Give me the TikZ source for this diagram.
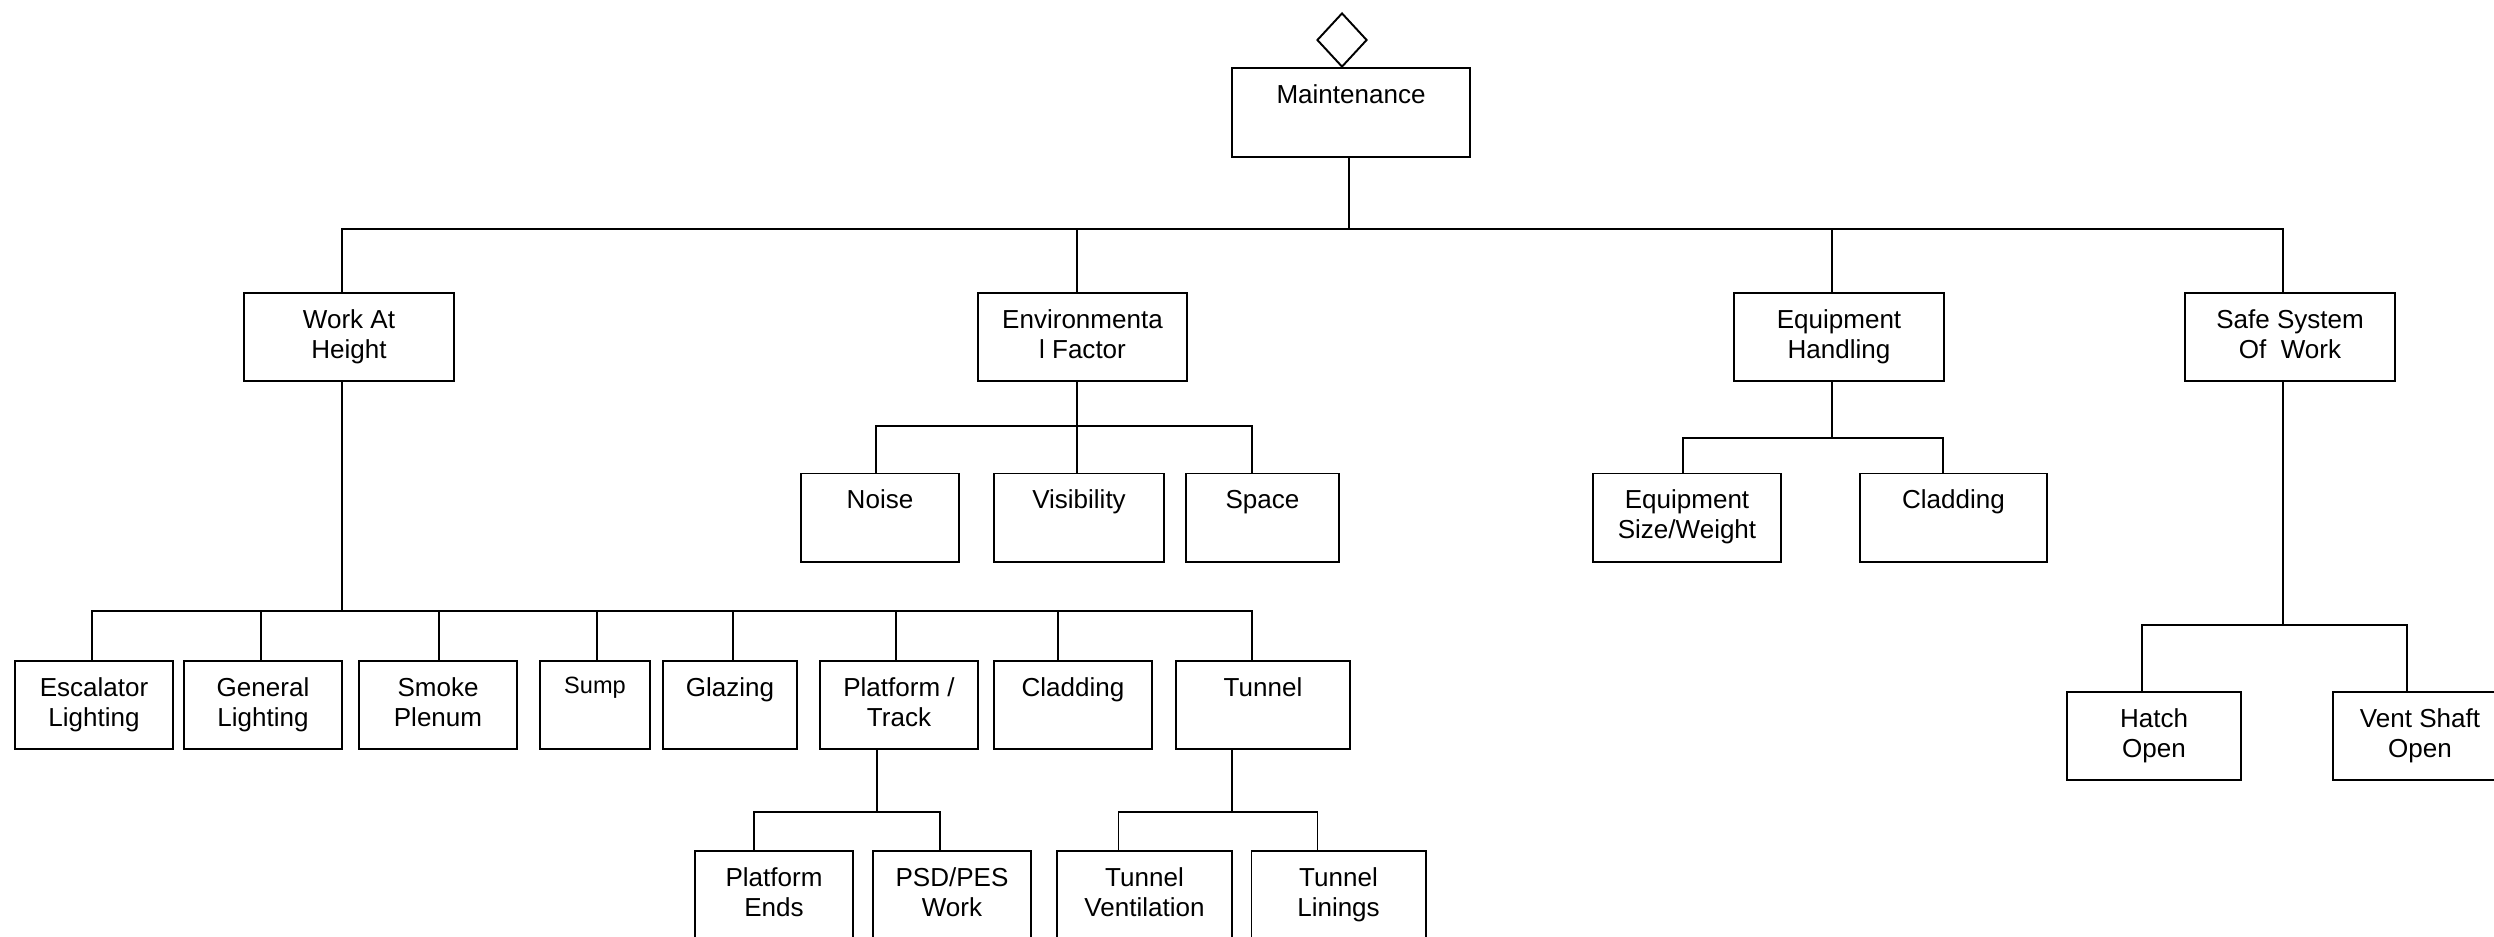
\documentclass[tikz,border=0pt]{standalone}
\usepackage{fontspec}
\setmainfont{Liberation Sans}
\usetikzlibrary{shapes.geometric,calc}

\begin{document}
\begin{tikzpicture}[x=0.01cm, y=-0.01cm, line width=0.55pt,
		box/.style={draw, rectangle, inner sep=0pt, minimum height=0.88cm, label={[lbl]north:#1}},
		lbl/.style={anchor=north, yshift=-0.165cm, align=center, inner sep=0pt, font=\fontsize{7.4}{8.54}\selectfont},
	]
	
	\useasboundingbox (0,0) rectangle (2494,936);
	
	% Draw the root.
	\node[shape=diamond, draw, inner sep=0pt, minimum width=0.5cm, minimum height=0.54cm] (dia) at (1342,40) {};
	\node[box=Maintenance, minimum width=2.38cm, minimum height=0.89cm] (main) at (1351,112.5) {};
	
	% Draw first level.
	\node[box={Work At\\Height}, minimum width=2.1cm] (wah) at (349,337) {};
	\node[box={Environmenta\\l Factor}, minimum width=2.09cm] (env) at (1082.5,337) {};
	\node[box={Equipment\\Handling}, minimum width=2.1cm] (eqh) at (1839,337) {};
	\node[box={Safe System\\Of\ \ Work}, minimum width=2.1cm] (ssw) at (2290,337) {};
	
	% Draw second level.
	\node[box=Noise, minimum width=1.58cm] (noise) at (880,517.5) {};
	\node[box=Visibility, minimum width=1.7cm] (vis) at (1079,517.5) {};
	\node[box=Space, minimum width=1.53cm] (space) at (1262.5,517.5) {};
	\node[box={Equipment\\Size/Weight}, minimum width=1.88cm] (eqsize) at (1687,517.5) {};
	\node[box=Cladding, minimum width=1.87cm] (eqclad) at (1953.5,517.5) {};
	\node[box={Hatch\\Open}, minimum width=1.74cm] (hatch) at (2154,736) {};
	\node[box={Vent Shaft\\Open}, minimum width=1.74cm] (vent) at (2420,736) {};
	
	\node[box={Escalator\\Lighting}, minimum width=1.58cm] (esc) at (94,705) {};
	\node[box={General\\Lighting}, minimum width=1.58cm] (gen) at (263,705) {};
	\node[box={Smoke\\Plenum}, minimum width=1.58cm] (smoke) at (438,705) {};
	\node[box={\fontsize{6.7}{8}\selectfont Sump}, minimum width=1.1cm] (sump) at (595,705) {};
	\node[box=Glazing, minimum width=1.34cm] (glaz) at (730,705) {};
	\node[box={Platform /\\Track}, minimum width=1.58cm] (pt) at (899,705) {};
	\node[box=Cladding, minimum width=1.58cm] (wclad) at (1073,705) {};
	\node[box=Tunnel, minimum width=1.74cm] (tun) at (1263,705) {};
	
	% Draw third level.
	\node[box={Platform\\Ends}, minimum width=1.58cm] (pe) at (774,895) {};
	\node[box={PSD/PES\\Work}, minimum width=1.58cm] (psd) at (952,895) {};
	\node[box={Tunnel\\Ventilation}, minimum width=1.74cm] (tv) at (1144.5,895) {};
	\node[box={Tunnel\\Linings}, minimum width=1.74cm] (tl) at (1338.5,895) {};
	
	% Draw connectors.
	\foreach \c/\dc in {wah/-7, env/-5.5, eqh/-7, ssw/-7}
		\draw ($(main.south)+(-2,0)$) -- ++(0,71) -| ($(\c.north)+(\dc,0)$);
	\foreach \c/\dc in {esc/-2, gen/-2, smoke/1, sump/2, glaz/3, pt/-3, wclad/-15, tun/-11}
		\draw ($(wah.south)+(-7,0)$) -- ++(0,229) -| ($(\c.north)+(\dc,0)$);
	\foreach \c/\dc in {noise/-4, vis/-2, space/-10.5}
		\draw ($(env.south)+(-5.5,0)$) -- ++(0,44) -| ($(\c.north)+(\dc,0)$);
	\foreach \c/\dc in {eqsize/-4, eqclad/-10.5}
		\draw ($(eqh.south)+(-7,0)$) -- ++(0,56) -| ($(\c.north)+(\dc,0)$);
	\foreach \c/\dc in {hatch/-12, vent/-13}
		\draw ($(ssw.south)+(-7,0)$) -- ++(0,243) -| ($(\c.north)+(\dc,0)$);
	\foreach \c/\dc in {pe/-20, psd/-12}
		\draw ($(pt.south)+(-22,0)$) -- ++(0,62) -| ($(\c.north)+(\dc,0)$);
	\foreach \c/\dc in {tv/-26, tl/-21}
		\draw ($(tun.south)+(-31,0)$) -- ++(0,62) -| ($(\c.north)+(\dc,0)$);
	
\end{tikzpicture}
\end{document}
